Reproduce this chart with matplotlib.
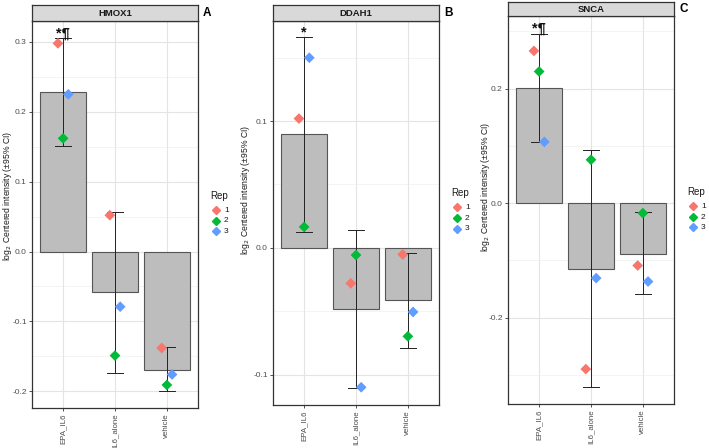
#!/usr/bin/env python3
"""Three faceted bar charts (HMOX1, DDAH1, SNCA): mean log2 centered intensity
per treatment with 95% CI error bars and the three replicate points."""
import matplotlib

matplotlib.use("Agg")
import matplotlib.pyplot as plt
from matplotlib.lines import Line2D

plt.rcParams["font.family"] = ["Liberation Sans", "DejaVu Sans"]

W, H = 709, 448

categories = ["EPA_IL6", "IL6_alone", "vehicle"]
rep_labels = ["1", "2", "3"]
rep_colors = ["#F8766D", "#00BA38", "#619CFF"]

# HMOX1
hmox1_mean = [0.229, -0.058, -0.169]
hmox1_lo = [0.151, -0.174, -0.199]
hmox1_hi = [0.305, 0.057, -0.137]
hmox1_rep1 = [0.298, 0.052, -0.138]
hmox1_rep2 = [0.162, -0.149, -0.191]
hmox1_rep3 = [0.225, -0.079, -0.176]

# DDAH1
ddah1_mean = [0.0895, -0.048, -0.0415]
ddah1_lo = [0.0126, -0.1107, -0.079]
ddah1_hi = [0.166, 0.0142, -0.0042]
ddah1_rep1 = [0.102, -0.028, -0.0052]
ddah1_rep2 = [0.0165, -0.0057, -0.0698]
ddah1_rep3 = [0.150, -0.110, -0.0506]

# SNCA
snca_mean = [0.201, -0.115, -0.089]
snca_lo = [0.107, -0.322, -0.158]
snca_hi = [0.296, 0.092, -0.016]
snca_rep1 = [0.266, -0.290, -0.109]
snca_rep2 = [0.230, 0.0758, -0.0175]
snca_rep3 = [0.107, -0.131, -0.137]

TEXT_GREY = "#4d4d4d"
BORDER = "#333333"
BAR_FILL = "#bdbdbd"
BAR_EDGE = "#555555"


def fx(px):
    return px / W


def fy(py):
    return 1 - py / H


def draw_panel(fig, box, strip, title, letter, mean, lo, hi, reps, ylim, major, minor,
               sig, ylab_xy, legend_xy):
    x0, y0, x1, y1 = box
    ax = fig.add_axes([fx(x0), fy(y1), fx(x1 - x0), (y1 - y0) / H])
    xs = list(range(len(categories)))

    for v in minor:
        ax.axhline(v, color="#f3f3f3", lw=0.6, zorder=0)
    for v in major:
        ax.axhline(v, color="#e4e4e4", lw=0.8, zorder=0)
    for x in xs:
        ax.axvline(x, color="#e4e4e4", lw=0.8, zorder=0)

    ax.bar(xs, mean, width=0.9, color=BAR_FILL, edgecolor=BAR_EDGE, lw=0.8, zorder=2)
    for x, l, h in zip(xs, lo, hi):
        ax.plot([x, x], [l, h], color="#222222", lw=0.7, zorder=3)
        ax.plot([x - 0.15, x + 0.15], [l, l], color="#222222", lw=0.7, zorder=3)
        ax.plot([x - 0.15, x + 0.15], [h, h], color="#222222", lw=0.7, zorder=3)

    offsets = [-0.1, 0.0, 0.1]
    for vals, c, off in zip(reps, rep_colors, offsets):
        ax.scatter([x + off for x in xs], vals, marker="D", s=30, color=c,
                   edgecolors="none", zorder=4)

    ax.text(0, hi[0] - (ylim[1] - ylim[0]) * 0.006, sig, ha="center", va="bottom",
            fontsize=10.5, fontweight="bold", color="#111111", zorder=5)

    ax.set_xlim(-0.6, 2.6)
    ax.set_ylim(*ylim)
    ax.set_xticks(xs)
    ax.set_xticklabels(categories, rotation=90, fontsize=5.7, color=TEXT_GREY)
    ax.set_yticks(major)
    ax.set_yticklabels([f"{v:.1f}" for v in major], fontsize=6, color=TEXT_GREY)
    ax.tick_params(length=2.5, width=0.6, color="#333333", pad=1.2)
    for s in ax.spines.values():
        s.set_color(BORDER)
        s.set_linewidth(0.9)

    # facet strip
    s0, s1 = strip
    sax = fig.add_axes([fx(x0), fy(s1), fx(x1 - x0), (s1 - s0) / H])
    sax.set_xticks([])
    sax.set_yticks([])
    sax.set_facecolor("#d9d9d9")
    for s in sax.spines.values():
        s.set_color(BORDER)
        s.set_linewidth(0.9)
    sax.text(0.5, 0.5, title, ha="center", va="center", fontsize=6.8,
             fontweight="bold", color="#1a1a1a", transform=sax.transAxes)

    fig.text(fx(x1 + 5), fy((s0 + s1) / 2), letter, ha="left", va="center",
             fontsize=8.5, fontweight="bold")

    lx0, ly0 = ylab_xy
    fig.text(fx(lx0), fy(ly0), "log$_2$ Centered intensity (±95% CI)",
             rotation=90, ha="center", va="center", fontsize=6.2, color="#1a1a1a")

    lx, ly = legend_xy
    fig.text(fx(lx), fy(ly), "Rep", ha="left", va="center", fontsize=7, color="#1a1a1a")
    for i, (lab, c) in enumerate(zip(rep_labels, rep_colors)):
        yy = ly + 14.5 + i * 10.5
        fig.add_artist(Line2D([fx(lx + 5.5)], [fy(yy)], marker="D", markersize=4.5,
                              color=c, lw=0, transform=fig.transFigure))
        fig.text(fx(lx + 14), fy(yy), lab, ha="left", va="center", fontsize=6,
                 color="#1a1a1a")
    return ax


fig = plt.figure(figsize=(W / 100, H / 100), dpi=100)

draw_panel(fig, (32, 21, 198, 408), (5, 21), "HMOX1", "A",
           hmox1_mean, hmox1_lo, hmox1_hi, [hmox1_rep1, hmox1_rep2, hmox1_rep3],
           (-0.224, 0.33), [-0.2, -0.1, 0.0, 0.1, 0.2, 0.3],
           [-0.15, -0.05, 0.05, 0.15, 0.25], "*¶", (8, 196), (210, 196))

draw_panel(fig, (273, 21, 439, 405), (5, 21), "DDAH1", "B",
           ddah1_mean, ddah1_lo, ddah1_hi, [ddah1_rep1, ddah1_rep2, ddah1_rep3],
           (-0.124, 0.179), [-0.1, 0.0, 0.1],
           [-0.05, 0.05, 0.15], "*", (246, 190), (451, 193))

draw_panel(fig, (508, 16, 674, 404), (2, 16), "SNCA", "C",
           snca_mean, snca_lo, snca_hi, [snca_rep1, snca_rep2, snca_rep3],
           (-0.351, 0.327), [-0.2, 0.0, 0.2],
           [-0.3, -0.1, 0.1, 0.3], "*¶", (485, 187), (687, 192))

fig.savefig("out.png", dpi=100)
